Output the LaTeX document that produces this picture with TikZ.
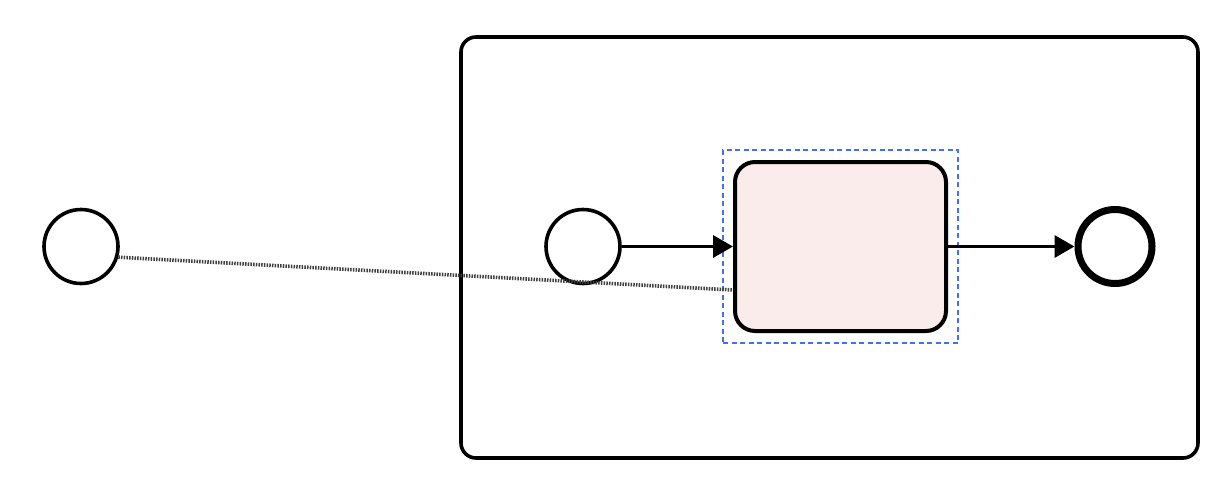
\documentclass[tikz,border=0pt]{standalone}
\usetikzlibrary{arrows.meta,calc}
\definecolor{taskfill}{HTML}{F9ECEA}
\definecolor{selblue}{HTML}{4470F0}
\definecolor{dotgray}{HTML}{404040}
\begin{document}
\begin{tikzpicture}[x=1pt,y=-1pt,
  event/.style={circle,draw=black,line width=3.6pt,minimum size=74pt,inner sep=0pt,fill=white},
  endevent/.style={circle,draw=black,line width=7pt,minimum size=74pt,inner sep=0pt,fill=white},
  pool/.style={draw=black,line width=3.6pt,rounded corners=15pt},
  taskbox/.style={draw=black,line width=4pt,rounded corners=20pt,fill=taskfill},
  selbox/.style={draw=selblue,line width=1.8pt,dash pattern=on 5pt off 3.5pt},
  flow/.style={line width=3.4pt,-{Triangle[length=20pt,width=22pt]}},
  assoc/.style={draw=dotgray,line width=3.6pt,dash pattern=on 1.5pt off 1.2pt}
]
\useasboundingbox (0,0) rectangle (1216,483);
\node[pool,minimum width=737pt,minimum height=421pt,inner sep=0pt] (pool) at (829.5,247.5) {};
\node[selbox,minimum width=235pt,minimum height=193pt,inner sep=0pt] (sel) at (840.5,246.5) {};
\node[event] (lc) at (81,246.5) {};
\node[event] (sc) at (583,246.5) {};
\node[endevent] (ec) at (1115,246.5) {};
\node[taskbox,minimum width=211pt,minimum height=169pt,inner sep=0pt] (task) at (840.5,246.5) {};
\coordinate (aend) at ($(task.south west)+(0,-43)$);
\draw[assoc] (lc.-16) -- (aend);
\draw[flow] (sc) -- (task);
\draw[flow] (task) -- (ec);
\end{tikzpicture}
\end{document}
